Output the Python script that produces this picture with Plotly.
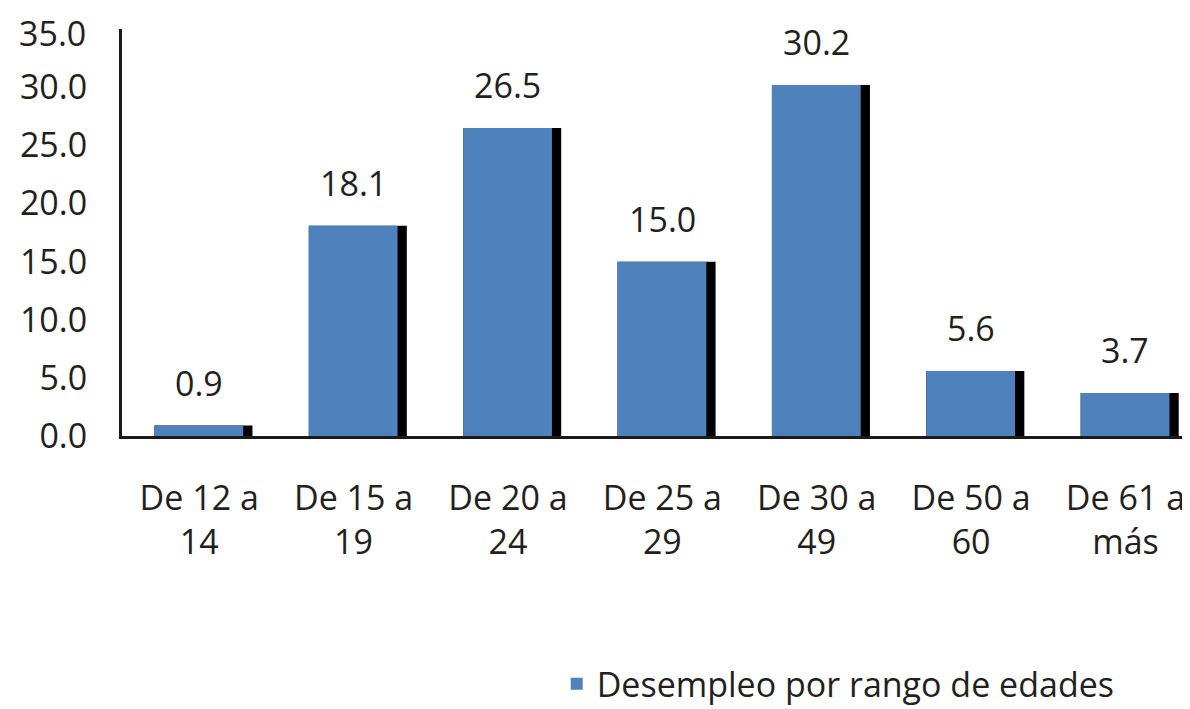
import plotly.graph_objects as go

categories = ["De 12 a<br>14", "De 15 a<br>19", "De 20 a<br>24", "De 25 a<br>29",
              "De 30 a<br>49", "De 50 a<br>60", "De 61 a<br>más"]
values = [0.9, 18.1, 26.5, 15.0, 30.2, 5.6, 3.7]
series_name = "Desempleo por rango de edades"
y_ticks = [0, 5, 10, 15, 20, 25, 30, 35]

FONT = "Open Sans"
TXT = "#231f20"
BLUE = "#4f81bd"

x = list(range(len(categories)))
y_top = y_ticks[-1]

fig = go.Figure()
# shadow
fig.add_trace(go.Bar(x=x, y=values, width=0.635, offset=-0.29,
                     marker=dict(color="#000000", line=dict(width=0)),
                     showlegend=False, hoverinfo="skip"))
fig.add_trace(go.Bar(x=x, y=values, width=0.575, offset=-0.29, name=series_name,
                     marker=dict(color=BLUE, line=dict(width=0))))

for xi, v in zip(x, values):
    fig.add_annotation(x=xi, y=v, text=f"{v:.1f}", showarrow=False,
                       yanchor="middle", yshift=43,
                       font=dict(family=FONT, size=34, color=TXT))

# top tick label, nudged so it stays inside the page
fig.add_annotation(xref="paper", x=0, y=y_top, text=f"{y_top:.1f}", showarrow=False,
                   xanchor="right", yanchor="middle", xshift=-34, yshift=-4,
                   font=dict(family=FONT, size=34, color=TXT))

fig.update_layout(
    width=1190, height=709,
    margin=dict(l=114, r=0, t=21, b=281, autoexpand=False),
    paper_bgcolor="white", plot_bgcolor="white",
    barmode="overlay",
    font=dict(family=FONT, size=34, color=TXT),
    showlegend=True,
    legend=dict(orientation="h", x=0.404, y=-0.61, xanchor="left", yanchor="middle",
                font=dict(family=FONT, size=34, color=TXT)),
    xaxis=dict(range=[-0.5, 6.47], tickmode="array", tickvals=x, ticktext=categories,
               showgrid=False, zeroline=False, showline=True, linecolor="#1a1a1a",
               linewidth=3, ticks="", ticklabelstandoff=30, automargin=False,
               tickfont=dict(family=FONT, size=34, color=TXT)),
    yaxis=dict(range=[0, 35.02], tickmode="array", tickvals=y_ticks[:-1],
               ticktext=[f"{t:.1f}" for t in y_ticks[:-1]],
               showgrid=False, zeroline=False, showline=True, linecolor="#1a1a1a",
               linewidth=3, ticks="", ticklabelstandoff=25,
               automargin=False,
               tickfont=dict(family=FONT, size=34, color=TXT)),
)

fig.write_html("out.html")
